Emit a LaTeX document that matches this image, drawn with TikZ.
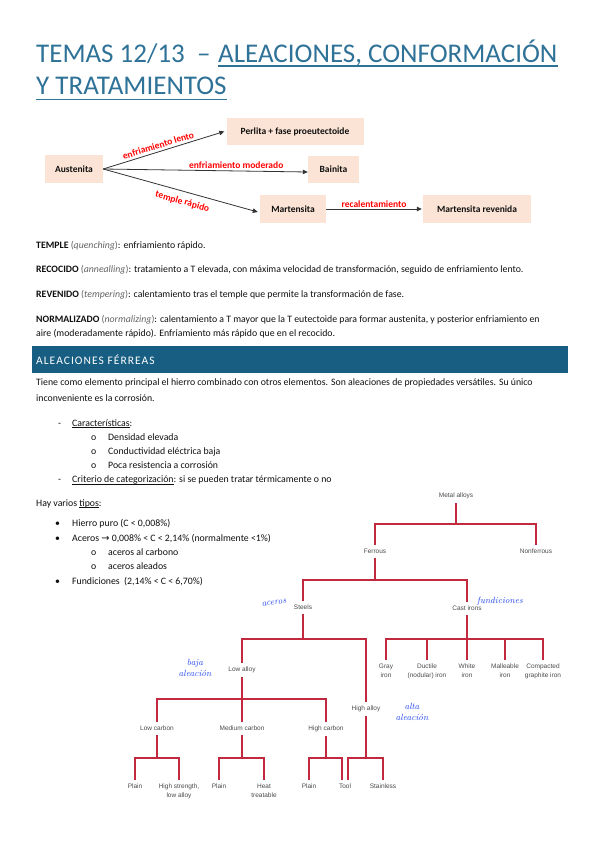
\documentclass[tikz,border=0pt]{standalone}
\usepackage{fontspec}
\setmainfont{Carlito}
\newfontfamily\treefont{Liberation Sans}
\newfontfamily\dejavu{DejaVu Sans}
\usetikzlibrary{arrows.meta}
\definecolor{titleblue}{RGB}{47,114,152}
\definecolor{barblue}{RGB}{23,94,130}
\definecolor{boxfill}{RGB}{251,228,213}
\definecolor{labred}{RGB}{255,0,0}
\definecolor{treered}{RGB}{194,40,62}
\definecolor{treegray}{RGB}{75,75,75}
\definecolor{handblue}{RGB}{35,70,240}
\definecolor{bodytext}{RGB}{15,15,15}
\definecolor{emgray}{RGB}{100,100,100}
\newcommand\myul[1]{\underline{\smash{#1}}}
\newcommand\myem[1]{{\color{emgray}(\textit{#1})}}
\begin{document}
\begin{tikzpicture}[x=1pt,y=-1pt,
  txt/.style={anchor=base west, inner sep=0pt, font=\fontsize{9.8}{12}\selectfont, text=bodytext},
  titletxt/.style={anchor=base west, inner sep=0pt, font=\fontsize{27}{32}\selectfont, text=titleblue},
  statebox/.style={fill=boxfill, draw=none, font=\bfseries\fontsize{9.5}{11}\selectfont, inner sep=0pt, text=bodytext},
  flow/.style={draw=black!80, line width=0.8pt, -{Triangle[length=5pt,width=4.5pt]}},
  redlab/.style={text=labred, font=\bfseries\fontsize{9.5}{11}\selectfont, inner sep=1.5pt},
  treelab/.style={font=\treefont\fontsize{6.5}{8.5}\selectfont, text=treegray, inner ysep=4pt, inner xsep=1pt, align=center, anchor=north},
  treeline/.style={draw=treered, line width=1.4pt},
  hand/.style={text=handblue, font=\fontfamily{lmr}\itshape\fontsize{9}{11}\selectfont, inner sep=0pt, align=center}
]
\fill[white] (0,0) rectangle (599,848);
\useasboundingbox (0,0) rectangle (599,848);

% ---------- title ----------
\node[titletxt] (t1) at (36,63) {TEMAS 12/13\ \ –};
\node[titletxt] (t2) at (218,63) {ALEACIONES, CONFORMACIÓN};
\node[titletxt] (t3) at (36,94.5) {Y TRATAMIENTOS};
\draw[titleblue, line width=1.2pt] ([yshift=-3pt]t2.base west) -- ([yshift=-3pt]t2.base east);
\draw[titleblue, line width=1.2pt] ([yshift=-5pt]t3.base west) -- ([yshift=-5pt]t3.base east);

% ---------- transformation diagram ----------
\node[statebox, minimum width=58pt, minimum height=28pt] (aus) at (74,169) {Austenita};
\node[statebox, minimum width=137pt, minimum height=27pt] (perl) at (295,131.5) {Perlita + fase proeutectoide};
\node[statebox, minimum width=51pt, minimum height=27pt] (bain) at (333.5,169.5) {Bainita};
\node[statebox, minimum width=66pt, minimum height=28pt] (mart) at (293,209) {Martensita};
\node[statebox, minimum width=108pt, minimum height=28pt] (marr) at (477,209) {Martensita revenida};

\draw[flow] (aus.east) -- node[redlab, sloped, above=1pt, pos=0.47] (l1) {enfriamiento lento} ([xshift=-2pt]perl.west);
\draw[flow] (aus.east) -- node[redlab, above, pos=0.65] (l2) {enfriamiento moderado} ([yshift=-2.5pt]bain.west);
\draw[flow] (aus.east) -- node[redlab, sloped, below=4.5pt, pos=0.53] (l3) {temple rápido} ([xshift=-2pt,yshift=-3pt]mart.west);
\draw[flow] (mart.east) -- node[redlab, above] (l4) {recalentamiento} ([xshift=-1pt]marr.west);

% ---------- definitions ----------
\node[txt] (d1) at (36,248.5) {\textbf{TEMPLE} \myem{quenching}: enfriamiento rápido.};
\node[txt] (d2) at (36,272.5) {\textbf{RECOCIDO} \myem{annealling}: tratamiento a T elevada, con máxima velocidad de transformación, seguido de enfriamiento lento.};
\node[txt] (d3) at (36,297.5) {\textbf{REVENIDO} \myem{tempering}: calentamiento tras el temple que permite la transformación de fase.};
\node[txt] (d4) at (36,322) {\textbf{NORMALIZADO} \myem{normalizing}: calentamiento a T mayor que la T eutectoide para formar austenita, y posterior enfriamiento en};
\node[txt] (d5) at (36,336.5) {aire (moderadamente rápido). Enfriamiento más rápido que en el recocido.};

% ---------- section header ----------
\node[fill=barblue, minimum width=536pt, minimum height=27pt, inner sep=0pt, anchor=north west] (bar) at (32,346) {};
\node[anchor=base west, inner sep=0pt, text=white, font=\fontsize{11.5}{13}\selectfont\addfontfeatures{LetterSpace=9}] (hdr) at (36,364) {ALEACIONES FÉRREAS};

\node[txt] (e1) at (36,385) {Tiene como elemento principal el hierro combinado con otros elementos. Son aleaciones de propiedades versátiles. Su único};
\node[txt] (e2) at (36,401) {inconveniente es la corrosión.};

% ---------- lists ----------
\node[txt] (m1) at (58,426) {-};
\node[txt] (m1t) at (72,426) {\myul{Características}:};
\node[txt] (m2) at (91,440) {o};
\node[txt] (m2t) at (108,440) {Densidad elevada};
\node[txt] (m3) at (91,454) {o};
\node[txt] (m3t) at (108,454) {Conductividad eléctrica baja};
\node[txt] (m4) at (91,468.5) {o};
\node[txt] (m4t) at (108,468.5) {Poca resistencia a corrosión};
\node[txt] (m5) at (58,482.5) {-};
\node[txt] (m5t) at (72,482.5) {\myul{Criterio de categorización}: si se pueden tratar térmicamente o no};
\node[txt] (h1) at (36,506) {Hay varios \myul{tipos}:};
\node[txt] (n1) at (55,526) {•};
\node[txt] (n1t) at (72,526) {Hierro puro (C < 0,008\%)};
\node[txt] (n2) at (55,541) {•};
\node[txt] (n2t) at (72,541) {Aceros {\dejavu →} 0,008\% < C < 2,14\% (normalmente <1\%)};
\node[txt] (n3) at (91,555) {o};
\node[txt] (n3t) at (108,555) {aceros al carbono};
\node[txt] (n4) at (91,569.5) {o};
\node[txt] (n4t) at (108,569.5) {aceros aleados};
\node[txt] (n5) at (55,584.5) {•};
\node[txt] (n5t) at (72,584.5) {Fundiciones\ \ (2,14\% < C < 6,70\%)};

% ---------- tree ----------
\node[treelab] (metal) at (456,489) {Metal alloys};
\node[treelab] (ferr) at (375,545) {Ferrous};
\node[treelab] (nonf) at (536,545) {Nonferrous};
\node[treelab] (steel) at (303,601) {Steels};
\node[treelab] (cast) at (467,602) {Cast irons};
\node[treelab] (gray) at (386,660) {Gray\\iron};
\node[treelab] (duct) at (427,660) {Ductile\\(nodular) iron};
\node[treelab] (white) at (467,660) {White\\iron};
\node[treelab] (mall) at (505,660) {Malleable\\iron};
\node[treelab] (comp) at (543,660) {Compacted\\graphite iron};
\node[treelab] (lowa) at (242,663) {Low alloy};
\node[treelab] (higha) at (366,702) {High alloy};
\node[treelab] (lowc) at (157,722) {Low carbon};
\node[treelab] (medc) at (242,722) {Medium carbon};
\node[treelab] (highc) at (326,722) {High carbon};
\node[treelab] (pl1) at (135,780) {Plain};
\node[treelab] (hsla) at (179,780) {High strength,\\low alloy};
\node[treelab] (pl2) at (219,780) {Plain};
\node[treelab] (heat) at (264,780) {Heat\\treatable};
\node[treelab] (pl3) at (309,780) {Plain};
\node[treelab] (tool) at (345,780) {Tool};
\node[treelab] (stain) at (383,780) {Stainless};

\coordinate (b0) at (0,524);
\coordinate (b1) at (0,580);
\coordinate (b2) at (0,639);
\coordinate (b4) at (0,699);
\coordinate (b5) at (0,758);

\draw[treeline] (metal.south) -- (metal.south |- b0) -| (ferr.north);
\draw[treeline] (metal.south |- b0) -| (nonf.north);
\draw[treeline] (ferr.south) -- (ferr.south |- b1) -| (steel.north);
\draw[treeline] (ferr.south |- b1) -| (cast.north);
\draw[treeline] (steel.south) -- (steel.south |- b2) -| (lowa.north);
\draw[treeline] (steel.south |- b2) -| (higha.north);
\draw[treeline] (cast.south) -- (cast.south |- b2) -| (gray.north);
\draw[treeline] (cast.south |- b2) -| (duct.north);
\draw[treeline] (cast.south |- b2) -| (white.north);
\draw[treeline] (cast.south |- b2) -| (mall.north);
\draw[treeline] (cast.south |- b2) -| (comp.north);
\draw[treeline] (lowa.south) -- (lowa.south |- b4) -| (lowc.north);
\draw[treeline] (lowa.south |- b4) -| (medc.north);
\draw[treeline] (lowa.south |- b4) -| (highc.north);
\draw[treeline] (lowc.south) -- (lowc.south |- b5) -| (pl1.north);
\draw[treeline] (lowc.south |- b5) -| (hsla.north);
\draw[treeline] (medc.south) -- (medc.south |- b5) -| (pl2.north);
\draw[treeline] (medc.south |- b5) -| (heat.north);
\draw[treeline] (highc.south) -- (highc.south |- b5) -| (pl3.north);
\draw[treeline] (highc.south |- b5) -| ([xshift=-3pt]tool.north);
\draw[treeline] (higha.south) -- (higha.south |- b5) -| ([xshift=3pt]tool.north);
\draw[treeline] (higha.south |- b5) -| (stain.north);

% ---------- handwritten notes ----------
\node[hand, rotate=8] (hw1) at (274,603) {aceros};
\node[hand] (hw2) at (500,601) {fundiciones};
\node[hand] (hw3) at (195,668) {baja\\aleación};
\node[hand] (hw4) at (412,712) {alta\\aleación};
\end{tikzpicture}
\end{document}
